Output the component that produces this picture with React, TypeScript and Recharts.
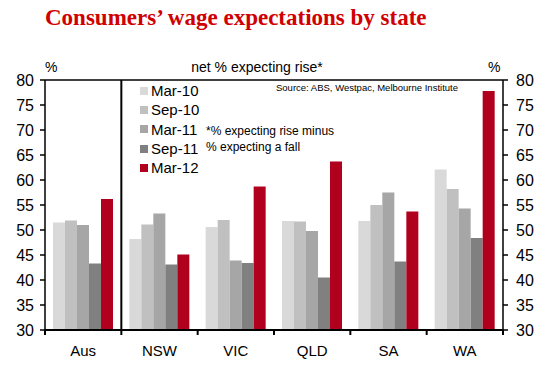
import { BarChart, Bar, XAxis, YAxis, ReferenceLine } from 'recharts';

const states = ['Aus', 'NSW', 'VIC', 'QLD', 'SA', 'WA'];
const mar10 = [51.5, 48.2, 50.6, 51.8, 51.8, 62.1];
const sep10 = [51.9, 51.1, 52.0, 51.7, 55.0, 58.2];
const mar11 = [51.0, 53.3, 43.9, 49.8, 57.5, 54.3];
const sep11 = [43.3, 43.1, 43.4, 40.5, 43.7, 48.4];
const mar12 = [56.2, 45.1, 58.7, 63.7, 53.7, 77.8];
const yTicks = [30, 35, 40, 45, 50, 55, 60, 65, 70, 75, 80];

const series = [
  { key: 'mar10', name: 'Mar-10', color: '#D9D9D9' },
  { key: 'sep10', name: 'Sep-10', color: '#C0C0C0' },
  { key: 'mar11', name: 'Mar-11', color: '#A6A6A6' },
  { key: 'sep11', name: 'Sep-11', color: '#808080' },
  { key: 'mar12', name: 'Mar-12', color: '#B0001E' },
];

const data = states.map((s, i) => ({
  state: s,
  mar10: mar10[i],
  sep10: sep10[i],
  mar11: mar11[i],
  sep11: sep11[i],
  mar12: mar12[i],
}));

const FONT = '"Liberation Sans", Arial, sans-serif';

// category label plus a tick mark on the group boundary
const StateTick = (props: any) => {
  const { x, y, payload, index } = props;
  const off = payload.offset || 0;
  return (
    <g>
      <line x1={x - off} x2={x - off} y1={y} y2={y + 5} stroke="#000" strokeWidth={2} />
      {index === states.length - 1 && (
        <line x1={x + off} x2={x + off} y1={y} y2={y + 5} stroke="#000" strokeWidth={2} />
      )}
      <text x={x} y={y + 26} textAnchor="middle" fontSize={15} fill="#000" fontFamily={FONT}>
        {payload.value}
      </text>
    </g>
  );
};

const App = () => {
  return (
    <div style={{ position: 'absolute', left: 0, top: 0, width: 554, height: 369, background: '#fff', fontFamily: FONT }}>
      <div
        style={{
          position: 'absolute',
          left: 45,
          top: 5,
          fontFamily: '"Liberation Serif", "Times New Roman", serif',
          fontWeight: 'bold',
          fontSize: 23,
          color: '#D00000',
          whiteSpace: 'nowrap',
        }}
      >
        Consumers’ wage expectations by state
      </div>
      <div style={{ position: 'absolute', left: 45, top: 59, fontSize: 14 }}>%</div>
      <div style={{ position: 'absolute', left: 488, top: 59, fontSize: 14 }}>%</div>
      <div style={{ position: 'absolute', left: 0, width: 514, top: 59, fontSize: 14, textAlign: 'center' }}>
        net % expecting rise*
      </div>
      <div style={{ position: 'absolute', left: 276, top: 82, fontSize: 9.5, whiteSpace: 'nowrap' }}>
        Source: ABS, Westpac, Melbourne Institute
      </div>
      <div style={{ position: 'absolute', left: 206, top: 123, fontSize: 12, lineHeight: '16px', whiteSpace: 'nowrap' }}>
        *% expecting rise minus
        <br />% expecting a fall
      </div>
      <div style={{ position: 'absolute', left: 140, top: 81 }}>
        {series.map((s) => (
          <div key={s.key} style={{ display: 'flex', alignItems: 'center', height: 19.3, fontSize: 15 }}>
            <span style={{ width: 8, height: 8, background: s.color, marginRight: 3 }} />
            <span>{s.name}</span>
          </div>
        ))}
      </div>
      <BarChart
        width={554}
        height={369}
        data={data}
        margin={{ top: 80, right: 0, left: 0, bottom: 0 }}
        barCategoryGap={8}
        barGap={0}
        style={{ position: 'absolute', left: 0, top: 0 }}
      >
        <XAxis
          dataKey="state"
          height={39}
          tickSize={0}
          tickMargin={0}
          tick={<StateTick />}
          axisLine={{ stroke: '#000', strokeWidth: 2 }}
          tickLine={false}
          interval={0}
        />
        <YAxis
          yAxisId="left"
          width={45}
          domain={[30, 80]}
          ticks={yTicks}
          interval={0}
          tickSize={5}
          tickMargin={6}
          axisLine={{ stroke: '#000', strokeWidth: 1.5 }}
          tickLine={{ stroke: '#000', strokeWidth: 1.5 }}
          tick={{ fill: '#000', fontSize: 16, fontFamily: FONT }}
          allowDataOverflow
        />
        <YAxis
          yAxisId="right"
          orientation="right"
          width={51}
          domain={[30, 80]}
          ticks={yTicks}
          interval={0}
          tickSize={5}
          tickMargin={8}
          axisLine={{ stroke: '#000', strokeWidth: 1.5 }}
          tickLine={{ stroke: '#000', strokeWidth: 1.5 }}
          tick={{ fill: '#000', fontSize: 16, fontFamily: FONT, textAnchor: 'start' }}
          allowDataOverflow
        />
        <ReferenceLine yAxisId="left" y={80} stroke="#000" strokeWidth={1.5} />
        <ReferenceLine yAxisId="left" x="NSW" position="start" stroke="#000" strokeWidth={2} />
        {series.map((s) => (
          <Bar
            key={s.key}
            yAxisId="left"
            dataKey={s.key}
            name={s.name}
            fill={s.color}
            isAnimationActive={false}
          />
        ))}
      </BarChart>
    </div>
  );
};

export default App;
